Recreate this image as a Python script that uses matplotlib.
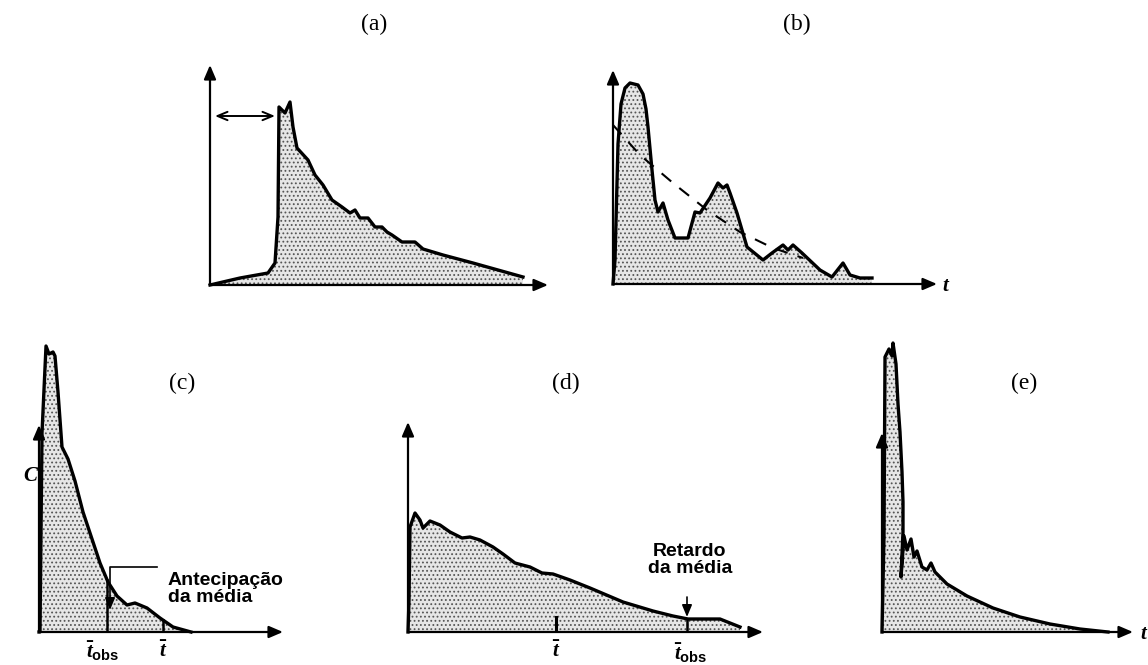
import numpy as np
import matplotlib
matplotlib.use('Agg')
import matplotlib.pyplot as plt

# curves (arbitrary units, origin at each axis corner)
t_a = [0, 30, 58, 65, 68, 69, 75, 80, 83, 87, 98, 105, 113, 122, 132, 140, 145, 150,
       158, 165, 172, 177, 182, 192, 205, 213, 233, 263, 313]
c_a = [0, 7, 12, 22, 68, 178, 172, 183, 158, 137, 125, 110, 100, 85, 78, 72, 75, 67,
       67, 58, 58, 53, 50, 43, 43, 36, 30, 22, 8]
lag_a = (5, 65, 169)  # double arrow: t from, t to, height

t_b = [0, 2, 5, 8, 12, 17, 25, 30, 33, 35, 39, 42, 45, 50, 55, 62, 75, 82, 87, 97, 105, 110,
       114, 117, 124, 134, 150, 159, 170, 175, 180, 189, 207, 219, 230, 237, 247, 259]
c_b = [0, 24, 140, 180, 196, 201, 199, 190, 175, 157, 114, 84, 72, 81, 64, 46, 46, 72, 71, 86,
       101, 96, 99, 91, 71, 37, 24, 31, 39, 34, 39, 31, 14, 7, 21, 9, 6, 6]
t_b_ideal = [0, 27, 60, 94, 127, 160, 190]
c_b_ideal = [159, 129, 101, 74, 52, 36, 26]

t_c = [0, 1, 3, 7, 10, 14, 16, 19, 23, 29, 36, 44, 53, 61, 69, 78, 88, 96, 108, 121, 134, 152]
c_c = [0, 0, 199, 286, 278, 280, 276, 240, 185, 173, 151, 120, 93, 69, 50, 36, 27, 29, 24, 14, 5, 0]
tbar_obs_c, tbar_c = 68, 124

t_d = [0, 1, 2, 7, 12, 15, 22, 32, 42, 54, 62, 72, 85, 95, 107, 122, 134, 145, 162, 182,
       215, 245, 265, 280, 312, 332]
c_d = [0, 32, 105, 119, 112, 104, 111, 107, 100, 94, 95, 92, 85, 78, 69, 65, 59, 58, 52, 44,
       30, 21, 16, 13, 13, 5]
tbar_d, tbar_obs_d = 148, 279

t_e = [0, 2, 3, 7, 10, 11, 14, 16, 18, 20, 21, 21, 19, 22, 25, 29, 32, 35, 40, 45, 49, 53,
       65, 85, 111, 138, 168, 198, 226]
c_e = [0, 96, 275, 283, 276, 289, 268, 228, 200, 160, 130, 100, 55, 96, 82, 93, 75, 81, 65,
       62, 69, 60, 48, 36, 24, 15, 8, 3, 0]

W, H = 1148, 665
plt.rcParams['hatch.linewidth'] = 0.8
plt.rcParams['mathtext.fontset'] = 'custom'
plt.rcParams['mathtext.it'] = 'Liberation Serif:italic:bold'
plt.rcParams['mathtext.rm'] = 'Liberation Sans:bold'
fig = plt.figure(figsize=(W / 100, H / 100), dpi=100)

serif = 'Liberation Serif'
sans = 'Liberation Sans'


def panel(ox, oy, xend, ytop):
    ax = fig.add_axes([ox / W, 1 - oy / H, (xend - ox) / W, (oy - ytop) / H])
    ax.set_xlim(0, xend - ox)
    ax.set_ylim(0, oy - ytop)
    ax.axis('off')
    head = dict(arrowstyle='-|>,head_length=0.7,head_width=0.3', lw=1.6, color='k',
                shrinkA=0, shrinkB=0, mutation_scale=12)
    ax.annotate('', xy=(xend - ox, 0), xytext=(0, 0), arrowprops=head, annotation_clip=False)
    ax.annotate('', xy=(0, oy - ytop), xytext=(0, 0), arrowprops=head, annotation_clip=False)
    return ax


def curve(ax, t, c):
    t = np.asarray(t, float)
    c = np.asarray(c, float)
    ax.fill(np.r_[t, t[-1], t[0]], np.r_[c, 0, 0], facecolor='#e6e6e6', edgecolor='#555555',
            hatch='....', lw=0, clip_on=False, zorder=1)
    ax.plot(t, c, color='k', lw=2.4, solid_joinstyle='round', clip_on=False, zorder=3)


def title(x, y, s):
    fig.text(x / W, 1 - y / H, s, ha='center', va='center', family=serif, fontsize=17)


# (a)
ax = panel(210, 285, 548, 65)
curve(ax, t_a, c_a)
ax.annotate('', xy=(lag_a[0], lag_a[2]), xytext=(lag_a[1], lag_a[2]),
            arrowprops=dict(arrowstyle='<->,head_length=0.6,head_width=0.25', lw=1.4,
                            color='k', shrinkA=0, shrinkB=0, mutation_scale=12))
title(374, 24, '(a)')

# (b)
ax = panel(613, 284, 937, 70)
curve(ax, t_b, c_b)
ax.plot(t_b_ideal, c_b_ideal, color='k', lw=1.5, ls=(0, (6, 5)), zorder=4)
ax.text(332, -2, 't', style='italic', weight='bold', family=serif, fontsize=15,
        va='center', ha='center')
title(797, 24, '(b)')

# (c)
ax = panel(39, 632, 283, 425)
curve(ax, t_c, c_c)
ax.plot([tbar_obs_c, tbar_obs_c], [0, np.interp(tbar_obs_c, t_c, c_c)], color='k', lw=1.8)
ax.plot([tbar_c, tbar_c], [0, np.interp(tbar_c, t_c, c_c)], color='k', lw=1.8)
ax.plot([72, 118], [65, 65], color='k', lw=1.2)
ax.annotate('', xy=(71, 22), xytext=(71, 65),
            arrowprops=dict(arrowstyle='-|>,head_length=0.6,head_width=0.25', lw=1.2,
                            color='k', shrinkA=0, shrinkB=0, mutation_scale=12))
ax.text(129, 43, 'Antecipação\nda média', family=sans, weight='bold', fontsize=14,
        ha='left', va='center', linespacing=1.05)
ax.text(tbar_obs_c - 4, -19, r'$\bar{t}_{\mathrm{obs}}$', fontsize=15, ha='center', va='center')
ax.text(tbar_c, -19, r'$\bar{t}$', fontsize=15, ha='center', va='center')
ax.text(-9, 156, 'C', style='italic', weight='bold', family=serif, fontsize=15,
        ha='center', va='center')
title(182, 383, '(c)')

# (d)
ax = panel(408, 632, 763, 422)
curve(ax, t_d, c_d)
ax.plot([tbar_d, tbar_d], [0, 15], color='k', lw=2.2)
ax.plot([tbar_obs_d, tbar_obs_d], [0, np.interp(tbar_obs_d, t_d, c_d)], color='k', lw=1.8)
ax.annotate('', xy=(tbar_obs_d, 15), xytext=(tbar_obs_d, 35),
            arrowprops=dict(arrowstyle='-|>,head_length=0.6,head_width=0.25', lw=1.2,
                            color='k', shrinkA=0, shrinkB=0, mutation_scale=12))
ax.text(tbar_obs_d + 3, 72, 'Retardo\nda média', family=sans, weight='bold', fontsize=14,
        ha='center', va='center', linespacing=1.05)
ax.text(tbar_d, -19, r'$\bar{t}$', fontsize=15, ha='center', va='center')
ax.text(tbar_obs_d + 4, -21, r'$\bar{t}_{\mathrm{obs}}$', fontsize=15, ha='center', va='center')
title(566, 383, '(d)')

# (e)
ax = panel(882, 632, 1133, 433)
curve(ax, t_e, c_e)
ax.text(258, -2, 't', style='italic', weight='bold', family=serif, fontsize=15,
        va='center', ha='left')
title(1024, 383, '(e)')

fig.savefig('out.png', dpi=100)
